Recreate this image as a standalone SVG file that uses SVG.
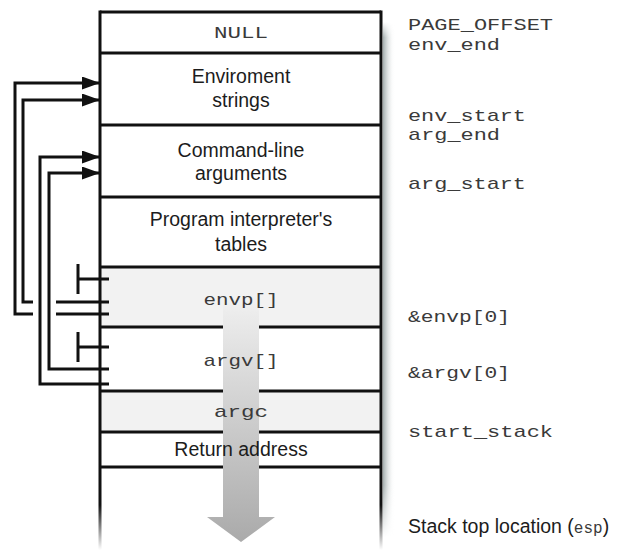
<svg xmlns="http://www.w3.org/2000/svg" width="624" height="551" viewBox="0 0 624 551">
<style>
.mono{font-family:"Liberation Mono","Courier New",monospace;font-size:17px;fill:#3a3a3a}
.sans{font-family:"Liberation Sans",Arial,sans-serif;font-size:19.5px;fill:#1c1c1c}
.c{text-anchor:middle}
.div{stroke:#111;stroke-width:3;fill:none}
.wire{stroke:#111;stroke-width:3;fill:none}
.row{fill:#fff}
.shade{fill:#f2f2f2}
</style>
<defs>
<marker id="ah" viewBox="0 0 18 13" refX="18" refY="6.5" markerWidth="18" markerHeight="13" markerUnits="userSpaceOnUse" orient="auto">
<path d="M0,0 L18,6.5 L0,13 Z" fill="#111"/>
</marker>
<linearGradient id="fadeLine" gradientUnits="userSpaceOnUse" x1="0" y1="505" x2="0" y2="550">
<stop offset="0" stop-color="#111" stop-opacity="1"/>
<stop offset="1" stop-color="#111" stop-opacity="0"/>
</linearGradient>
<linearGradient id="shadowH" x1="0" y1="0" x2="1" y2="0">
<stop offset="0" stop-color="#a3adad"/>
<stop offset="1" stop-color="#ffffff" stop-opacity="0"/>
</linearGradient>
<linearGradient id="shadowV" x1="0" y1="0" x2="0" y2="1">
<stop offset="0" stop-color="#fff" stop-opacity="0"/>
<stop offset="0.03" stop-color="#fff" stop-opacity="1"/>
<stop offset="0.9" stop-color="#fff" stop-opacity="1"/>
<stop offset="1" stop-color="#fff" stop-opacity="0"/>
</linearGradient>
<mask id="shadowMask"><rect x="383" y="22" width="12" height="515" fill="url(#shadowV)"/></mask>
<linearGradient id="bigArrow" gradientUnits="userSpaceOnUse" x1="0" y1="292" x2="0" y2="545">
<stop offset="0" stop-color="#f2f2f2" stop-opacity="0"/>
<stop offset="0.08" stop-color="#ececec" stop-opacity="1"/>
<stop offset="1" stop-color="#a9a9a9" stop-opacity="1"/>
</linearGradient>
</defs>

<!-- shadow -->
<rect x="383" y="22" width="12" height="515" fill="url(#shadowH)" mask="url(#shadowMask)"/>

<!-- rows -->
<g id="null"><rect class="row" x="100" y="12" width="281" height="41"/><text class="mono c" x="241" y="38" textLength="54" lengthAdjust="spacingAndGlyphs">NULL</text></g>
<g id="env-strings"><rect class="row" x="100" y="53" width="281" height="72"/><text class="sans c" x="241" y="83">Enviroment</text><text class="sans c" x="241" y="107">strings</text></g>
<g id="cmd-args"><rect class="row" x="100" y="125" width="281" height="72"/><text class="sans c" x="241" y="157">Command-line</text><text class="sans c" x="241" y="180">arguments</text></g>
<g id="interp-tables"><rect class="row" x="100" y="197" width="281" height="70"/><text class="sans c" x="241" y="226">Program interpreter's</text><text class="sans c" x="241" y="251">tables</text></g>
<g id="envp"><rect class="shade" x="100" y="267" width="281" height="60"/></g>
<g id="argv"><rect class="row" x="100" y="327" width="281" height="64"/></g>
<g id="argc"><rect class="shade" x="100" y="391" width="281" height="41"/></g>
<g id="return-address"><rect class="row" x="100" y="432" width="281" height="35"/></g>

<!-- box lines -->
<g id="box-lines">
<path class="div" d="M100,12 H381 M100,53 H381 M100,125 H381 M100,197 H381 M100,267 H381 M100,327 H381 M100,391 H381 M100,432 H381 M100,467 H381"/>
<line x1="100" y1="10.5" x2="100" y2="550" stroke="url(#fadeLine)" stroke-width="3"/>
<line x1="381" y1="10.5" x2="381" y2="550" stroke="url(#fadeLine)" stroke-width="3"/>
</g>

<!-- big growth arrow -->
<g id="stack-arrow">
<path d="M223,292 H259 V517 H275 L241,542 L207,517 H223 Z" fill="url(#bigArrow)"/>
</g>

<!-- texts over arrow -->
<g id="row-labels">
<text class="mono c" x="241" y="305" textLength="75" lengthAdjust="spacingAndGlyphs">envp[]</text>
<text class="mono c" x="241" y="366" textLength="75" lengthAdjust="spacingAndGlyphs">argv[]</text>
<text class="mono c" x="241" y="417" textLength="54" lengthAdjust="spacingAndGlyphs">argc</text>
<text class="sans c" x="241" y="456">Return address</text>
</g>

<!-- connectors -->
<g id="connectors">
<path class="wire" d="M33,314 H15 V83 H100" marker-end="url(#ah)"/>
<path class="wire" d="M33,302 H23 V100 H100" marker-end="url(#ah)"/>
<path class="wire" d="M109,384 H40 V157 H100" marker-end="url(#ah)"/>
<path class="wire" d="M109,369 H49 V173 H100" marker-end="url(#ah)"/>
<path class="wire" d="M56,302 H109 M56,314 H109"/>
<path class="wire" d="M78,264 V294 M78,279 H109"/>
<path class="wire" d="M78,332 V362 M78,347 H109"/>
</g>

<!-- address labels -->
<g id="addresses">
<text class="mono" x="408" y="30" textLength="145" lengthAdjust="spacingAndGlyphs">PAGE_OFFSET</text>
<text class="mono" x="408" y="50" textLength="92" lengthAdjust="spacingAndGlyphs">env_end</text>
<text class="mono" x="408" y="121" textLength="118" lengthAdjust="spacingAndGlyphs">env_start</text>
<text class="mono" x="408" y="140" textLength="92" lengthAdjust="spacingAndGlyphs">arg_end</text>
<text class="mono" x="408" y="189" textLength="118" lengthAdjust="spacingAndGlyphs">arg_start</text>
<text class="mono" x="408" y="322" textLength="102" lengthAdjust="spacingAndGlyphs">&amp;envp[0]</text>
<text class="mono" x="408" y="378" textLength="102" lengthAdjust="spacingAndGlyphs">&amp;argv[0]</text>
<text class="mono" x="408" y="437" textLength="145" lengthAdjust="spacingAndGlyphs">start_stack</text>
<text class="sans" x="408" y="533">Stack top location (<tspan style="font-family:'Liberation Mono','Courier New',monospace;font-size:16px;fill:#3a3a3a">esp</tspan>)</text>
</g>
</svg>
